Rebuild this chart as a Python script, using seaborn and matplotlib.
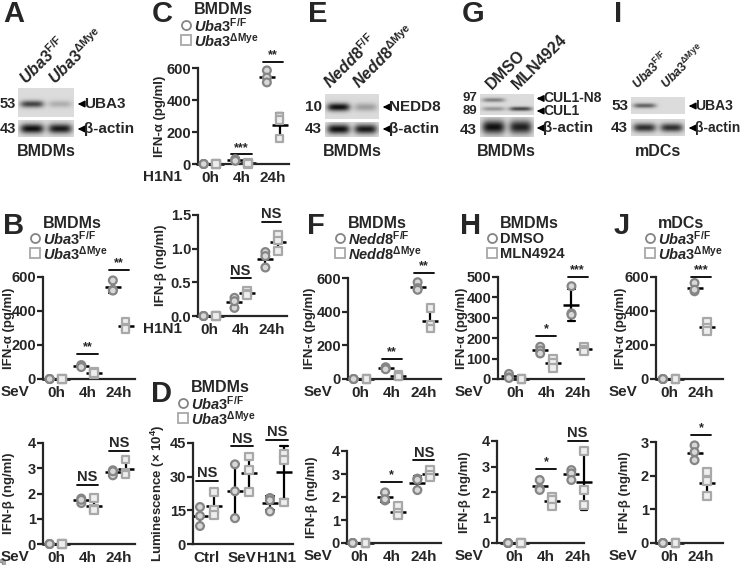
import numpy as np
import pandas as pd
import matplotlib
matplotlib.use("Agg")
import matplotlib.pyplot as plt
import seaborn as sns
from matplotlib.lines import Line2D
from matplotlib.patches import FancyArrowPatch

sns.set_style("ticks")
plt.rcParams["font.family"] = ["Liberation Sans", "DejaVu Sans"]
plt.rcParams["font.weight"] = "bold"
plt.rcParams["axes.labelweight"] = "bold"
plt.rcParams["mathtext.fontset"] = "custom"
plt.rcParams["mathtext.rm"] = "Liberation Sans:bold"
plt.rcParams["mathtext.it"] = "Liberation Sans:italic:bold"
plt.rcParams["mathtext.bf"] = "Liberation Sans:bold"

# ---------------- data ----------------
SEV3 = ["0h", "4h", "24h"]
SEV2 = ["0h", "24h"]
LUM_GROUPS = ["Ctrl", "SeV", "H1N1"]

B_ifna_ff = [[0, 0, 0], [82, 76, 70], [580, 525, 520]]
B_ifna_ko = [[0, 0, 0], [42, 30, 35], [335, 300, 295]]
B_ifna_sig = [(1, 150, "**"), (2, 640, "**")]
B_ifnb_ff = [[0, 0, 0], [1.8, 1.62, 1.75], [2.92, 2.72, 2.88]]
B_ifnb_ko = [[0, 0, 0], [1.82, 1.4, 1.35], [3.35, 2.8, 2.75]]
B_ifnb_sig = [(1, 2.35, "NS"), (2, 3.7, "NS")]

C_ifna_ff = [[0, 0, 0], [30, 25, 20], [585, 540, 510]]
C_ifna_ko = [[0, 0, 0], [5, 2, 3], [295, 275, 160]]
C_ifna_sig = [(1, 60, "***"), (2, 640, "**")]
C_ifnb_ff = [[0, 0, 0], [0.27, 0.12, 0.22], [0.95, 0.72, 0.89]]
C_ifnb_ko = [[0, 0, 0], [0.38, 0.33, 0.31], [1.21, 0.96, 1.12]]
C_ifnb_sig = [(1, 0.56, "NS"), (2, 1.4, "NS")]

D_lum_ff = [[16.5, 12.5, 8], [35.5, 23.5, 11.5], [20.5, 19.5, 14.5]]
D_lum_ko = [[23, 15, 13], [39, 33, 23], [40, 37.5, 18.5]]
D_lum_sig = [(0, 28, "NS"), (1, 43.5, "NS"), (2, 46.5, "NS")]

F_ifna_ff = [[0, 0, 0], [70, 62, 58], [575, 540, 530]]
F_ifna_ko = [[0, 0, 0], [25, 18, 15], [420, 320, 300]]
F_ifna_sig = [(1, 120, "**"), (2, 630, "**")]
F_ifnb_ff = [[0, 0, 0], [2.2, 1.85, 1.9], [2.8, 2.3, 2.75]]
F_ifnb_ko = [[0, 0, 0], [1.6, 1.3, 1.2], [3.2, 2.95, 2.85]]
F_ifnb_sig = [(1, 2.65, "*"), (2, 3.6, "NS")]

H_ifna_ff = [[25, 8, 5], [158, 140, 125], [455, 322, 315]]
H_ifna_ko = [[0, 0, 0], [100, 80, 55], [158, 143, 135]]
H_ifna_sig = [(1, 210, "*"), (2, 500, "***")]
H_ifnb_ff = [[0, 0, 0], [2.47, 2.14, 2.08], [2.86, 2.73, 2.47]]
H_ifnb_ko = [[0, 0, 0], [1.82, 1.71, 1.43], [3.62, 2.08, 1.5]]
H_ifnb_sig = [(1, 2.9, "*"), (2, 4.0, "NS")]

J_ifna_ff = [[0, 0, 0], [565, 516, 525]]
J_ifna_ko = [[0, 0, 0], [335, 300, 282]]
J_ifna_sig = [(1, 600, "***")]
J_ifnb_ff = [[0, 0, 0], [2.9, 2.7, 2.46]]
J_ifnb_ko = [[0, 0, 0], [2.1, 1.85, 1.4]]
J_ifnb_sig = [(1, 3.2, "*")]

# blot band intensities (lane 1, lane 2)
A_uba3 = [0.75, 0.22]
A_actin = [1.0, 0.95]
E_nedd8 = [1.0, 0.3]
E_actin = [1.0, 0.95]
G_cul1n8 = [0.45, 0.0]
G_cul1 = [0.35, 0.75]
G_actin = [1.0, 0.92]
I_uba3 = [0.6, 0.0]
I_actin = [0.85, 0.85]

# ---------------- helpers ----------------
W, H = 743, 565
fig = plt.figure(figsize=(W / 100, H / 100), dpi=100)

FF_EDGE, FF_FACE = "#858585", "#d8d8d8"
KO_EDGE, KO_FACE = "#a8a8a8", "#eeeeee"
LW = 1.6


def add_ax(x0, x1, ytop, ybot):
    return fig.add_axes([x0 / W, 1 - ybot / H, (x1 - x0) / W, (ybot - ytop) / H])


def T(x, y, s, **kw):
    kw.setdefault("ha", "left")
    kw.setdefault("va", "center")
    kw.setdefault("fontsize", 11)
    kw.setdefault("fontweight", "bold")
    return fig.text(x / W, 1 - y / H, s, **kw)


def legend(x, y, title, lab1, lab2):
    T(x + 8, y, title, fontsize=11.5)
    fig.add_artist(Line2D([x / W], [1 - (y + 15) / H], marker="o", ms=6.5, mfc="white",
                          mec=FF_EDGE, mew=1.3, transform=fig.transFigure))
    fig.add_artist(Line2D([x / W], [1 - (y + 30) / H], marker="s", ms=6.5, mfc="white",
                          mec=KO_EDGE, mew=1.3, transform=fig.transFigure))
    T(x + 8, y + 15.5, lab1, fontsize=10.5)
    T(x + 8, y + 30.5, lab2, fontsize=10.5)


def panel(rect, groups, ff, ko, ymax, yticks, yticklabels, ylabel, ylab_px,
          row_label, row_px, sig, xlim):
    x0, x1, ytop, ybot = rect
    ax = add_ax(*rect)
    rows = []
    for g, a, b in zip(groups, ff, ko):
        rows += [(g, "ff", v) for v in a]
        rows += [(g, "ko", v) for v in b]
    df = pd.DataFrame(rows, columns=["grp", "geno", "val"])
    common = dict(x="grp", y="val", hue="geno", order=groups, hue_order=["ff", "ko"],
                  dodge=True, jitter=False, ax=ax, legend=False, size=5.6, linewidth=1.6,
                  palette={"ff": FF_FACE, "ko": KO_FACE})
    sns.stripplot(data=df[df.geno == "ff"], marker="o", edgecolor=FF_EDGE, **common)
    sns.stripplot(data=df[df.geno == "ko"], marker="s", edgecolor=KO_EDGE, **common)
    sns.pointplot(data=df, x="grp", y="val", hue="geno", order=groups,
                  hue_order=["ff", "ko"], dodge=0.4, errorbar="sd", capsize=0.22,
                  palette={"ff": "black", "ko": "black"}, marker="_", markersize=12,
                  markeredgewidth=1.8, linestyle="none", err_kws={"linewidth": 1.6},
                  ax=ax, legend=False)
    for c in ax.collections:
        c.set_clip_on(False)
    for l in ax.lines:
        l.set_clip_on(False)
    ax.set_xlim(*xlim)
    ax.set_ylim(0, ymax)
    ax.set_yticks(yticks)
    ax.set_yticklabels(yticklabels)
    ax.set_xlabel("")
    ax.set_ylabel(ylabel, fontsize=9.5)
    # ylab_px = desired horizontal centre of the rotated label (label anchor is its right edge)
    ax.yaxis.set_label_coords((ylab_px + 6 - x0) / (x1 - x0), 0.5)
    sns.despine(ax=ax)
    ax.spines["left"].set_linewidth(LW)
    ax.spines["bottom"].set_linewidth(LW)
    ax.tick_params(axis="y", length=4, width=LW, labelsize=10.5, pad=1)
    ax.tick_params(axis="x", length=0, labelsize=11, pad=5)
    for t in ax.get_xticklabels() + ax.get_yticklabels():
        t.set_fontweight("bold")
    for gi, yv, lab in sig:
        ax.plot([gi - 0.32, gi + 0.32], [yv, yv], color="black", lw=1.3, clip_on=False)
        ax.annotate(lab, (gi, yv), xytext=(0, 0.5), textcoords="offset points",
                    ha="center", va="bottom", fontsize=10.5 if lab == "NS" else 9,
                    fontweight="bold", annotation_clip=False)
    if row_label:
        T(row_px, ybot + 13, row_label, ha="center")
    return ax


def blot(x0, x1, ytop, ybot, lanes, bands):
    """bands: list of (y_frac_from_top, half_height_frac, intensities)"""
    ax = add_ax(x0, x1, ytop, ybot)
    h, w = (ybot - ytop) * 4, (x1 - x0) * 4
    yy, xx = np.mgrid[0:h, 0:w]
    yy = yy / h
    xx = xx / w
    img = np.full((h, w), 0.86)
    n = len(lanes)
    for yf, hh, ints in bands:
        for i, v in enumerate(ints):
            xc = (i + 0.5) / n
            shape = np.exp(-((xx - xc) / (0.42 / n)) ** 4) * np.exp(-((yy - yf) / hh) ** 2)
            img -= 0.8 * v * shape
    img = np.clip(img, 0.03, 1)
    ax.imshow(img, cmap="gray", vmin=0, vmax=1, aspect="auto", extent=[0, 1, 1, 0],
              interpolation="bilinear")
    ax.set_axis_off()
    return ax


def arrow_label(xh, y, s, fs=11):
    fig.add_artist(FancyArrowPatch(((xh + 10) / W, 1 - y / H), ((xh + 1) / W, 1 - y / H),
                                   transform=fig.transFigure, arrowstyle="-|>",
                                   mutation_scale=9, lw=1.3, color="black"))
    T(xh + 10, y, s, fontsize=fs)


def rot_label(x, y, s, fs=11.5):
    T(x, y, s, rotation=45, rotation_mode="anchor", ha="left", va="baseline", fontsize=fs)


UBA_FF = r"$\mathit{Uba3}^{\mathrm{F/F}}$"
UBA_KO = r"$\mathit{Uba3}^{\Delta\mathrm{Mye}}$"
NED_FF = r"$\mathit{Nedd8}^{\mathrm{F/F}}$"
NED_KO = r"$\mathit{Nedd8}^{\Delta\mathrm{Mye}}$"
IFNA = "IFN-α (pg/ml)"
IFNB = "IFN-β (ng/ml)"

# ---------------- panel letters ----------------
for lx, ly, L in [(3, 14, "A"), (152, 14, "C"), (308, 14, "E"), (462, 14, "G"), (614, 14, "I"),
                  (3, 226, "B"), (307, 226, "F"), (460, 226, "H"), (614, 226, "J"),
                  (151, 394, "D")]:
    T(lx, ly, L, fontsize=21)

# ---------------- blots ----------------
rot_label(27, 86, UBA_FF)
rot_label(56, 86, UBA_KO)
blot(18, 74, 88, 117, [0, 1], [(0.55, 0.12, A_uba3)])
blot(18, 74, 120, 137, [0, 1], [(0.5, 0.28, A_actin)])
T(16, 104, "53", ha="right", fontsize=10.5)
T(16, 129, "43", ha="right", fontsize=10.5)
arrow_label(74, 104, "UBA3")
arrow_label(74, 129, "β-actin")
T(46, 152, "BMDMs", ha="center", fontsize=11.5)

rot_label(331, 90, NED_FF)
rot_label(360, 90, NED_KO)
blot(325, 379, 94, 119, [0, 1], [(0.52, 0.16, E_nedd8)])
blot(325, 379, 122, 137, [0, 1], [(0.5, 0.3, E_actin)])
T(322, 107, "10", ha="right")
T(322, 129, "43", ha="right")
arrow_label(379, 107, "NEDD8")
arrow_label(379, 129, "β-actin")
T(352, 152, "BMDMs", ha="center", fontsize=11.5)

rot_label(492, 90, "DMSO")
rot_label(518, 90, "MLN4924")
blot(480, 533, 94, 115, [0, 1], [(0.28, 0.1, G_cul1n8), (0.7, 0.1, G_cul1)])
blot(480, 533, 117, 137, [0, 1], [(0.52, 0.32, G_actin)])
T(477, 98, "97", ha="right", fontsize=9.5)
T(477, 110.5, "89", ha="right", fontsize=9.5)
T(477, 130, "43", ha="right")
arrow_label(533, 98.5, "CUL1-N8", fs=10)
arrow_label(533, 111, "CUL1", fs=10)
arrow_label(533, 128, "β-actin")
T(506, 152, "BMDMs", ha="center", fontsize=11.5)

rot_label(638, 90, UBA_FF, fs=9)
rot_label(667, 90, UBA_KO, fs=9)
blot(631, 685, 97, 114, [0, 1], [(0.5, 0.14, I_uba3)])
blot(631, 685, 119, 136, [0, 1], [(0.5, 0.25, I_actin)])
T(628, 106, "53", ha="right")
T(628, 128, "43", ha="right")
arrow_label(685, 106, "UBA3", fs=10)
arrow_label(685, 128, "β-actin", fs=10)
T(658, 152, "mDCs", ha="center", fontsize=11.5)

# ---------------- scatter panels ----------------
a600 = [0, 200, 400, 600]
legend(186, 10, "BMDMs", UBA_FF, UBA_KO)
panel((198, 289, 68, 164), SEV3, C_ifna_ff, C_ifna_ko, 600, a600, a600, IFNA, 160,
      "H1N1", 163, C_ifna_sig, (-0.38, 2.5))
panel((198, 287, 215, 316), SEV3, C_ifnb_ff, C_ifnb_ko, 1.5, [0, 0.5, 1.0, 1.5],
      ["0.0", "0.5", "1.0", "1.5"], IFNB, 161, "H1N1", 163, C_ifnb_sig, (-0.38, 2.5))

legend(35, 223, "BMDMs", UBA_FF, UBA_KO)
panel((43, 135, 277, 379), SEV3, B_ifna_ff, B_ifna_ko, 600, a600, a600, IFNA, 9,
      "SeV", 15, B_ifna_sig, (-0.41, 2.5))
panel((43, 135, 443, 544), SEV3, B_ifnb_ff, B_ifnb_ko, 4, [0, 1, 2, 3, 4],
      ["0", "1", "2", "3", "4"], IFNB, 9, "SeV", 15, B_ifnb_sig, (-0.41, 2.5))

legend(183, 388, "BMDMs", UBA_FF, UBA_KO)
panel((193, 293, 443, 544), LUM_GROUPS, D_lum_ff, D_lum_ko, 45, [0, 15, 30, 45],
      ["0", "15", "30", "45"], "Luminescence (× 10$^{4}$)", 161, "", 0, D_lum_sig,
      (-0.4, 2.46))

legend(340, 223, "BMDMs", NED_FF, NED_KO)
panel((348, 441, 278, 379), SEV3, F_ifna_ff, F_ifna_ko, 600, a600, a600, IFNA, 310,
      "SeV", 318, F_ifna_sig, (-0.375, 2.53))
panel((347, 441, 451, 543), SEV3, F_ifnb_ff, F_ifnb_ko, 4, [0, 1, 2, 3, 4],
      ["0", "1", "2", "3", "4"], IFNB, 312, "SeV", 318, F_ifnb_sig, (-0.375, 2.53))

legend(492, 223, "BMDMs", "DMSO", "MLN4924")
panel((498, 584, 277, 379), SEV3, H_ifna_ff, H_ifna_ko, 500, [0, 100, 200, 300, 400, 500],
      ["0", "100", "200", "300", "400", "500"], IFNA, 462, "SeV", 469, H_ifna_sig,
      (-0.55, 2.2))
panel((497, 584, 441, 543), SEV3, H_ifnb_ff, H_ifnb_ko, 4, [0, 1, 2, 3, 4],
      ["0", "1", "2", "3", "4"], IFNB, 465, "SeV", 469, H_ifnb_sig, (-0.55, 2.2))

legend(650, 223, "mDCs", UBA_FF, UBA_KO)
panel((656, 723, 277, 379), SEV2, J_ifna_ff, J_ifna_ko, 600, a600, a600, IFNA, 621,
      "SeV", 623, J_ifna_sig, (-0.42, 1.7))
panel((656, 723, 442, 543), SEV2, J_ifnb_ff, J_ifnb_ko, 3, [0, 1, 2, 3],
      ["0", "1", "2", "3"], IFNB, 625, "SeV", 623, J_ifnb_sig, (-0.42, 1.7))

fig.savefig("out.png", dpi=100, facecolor="white")
